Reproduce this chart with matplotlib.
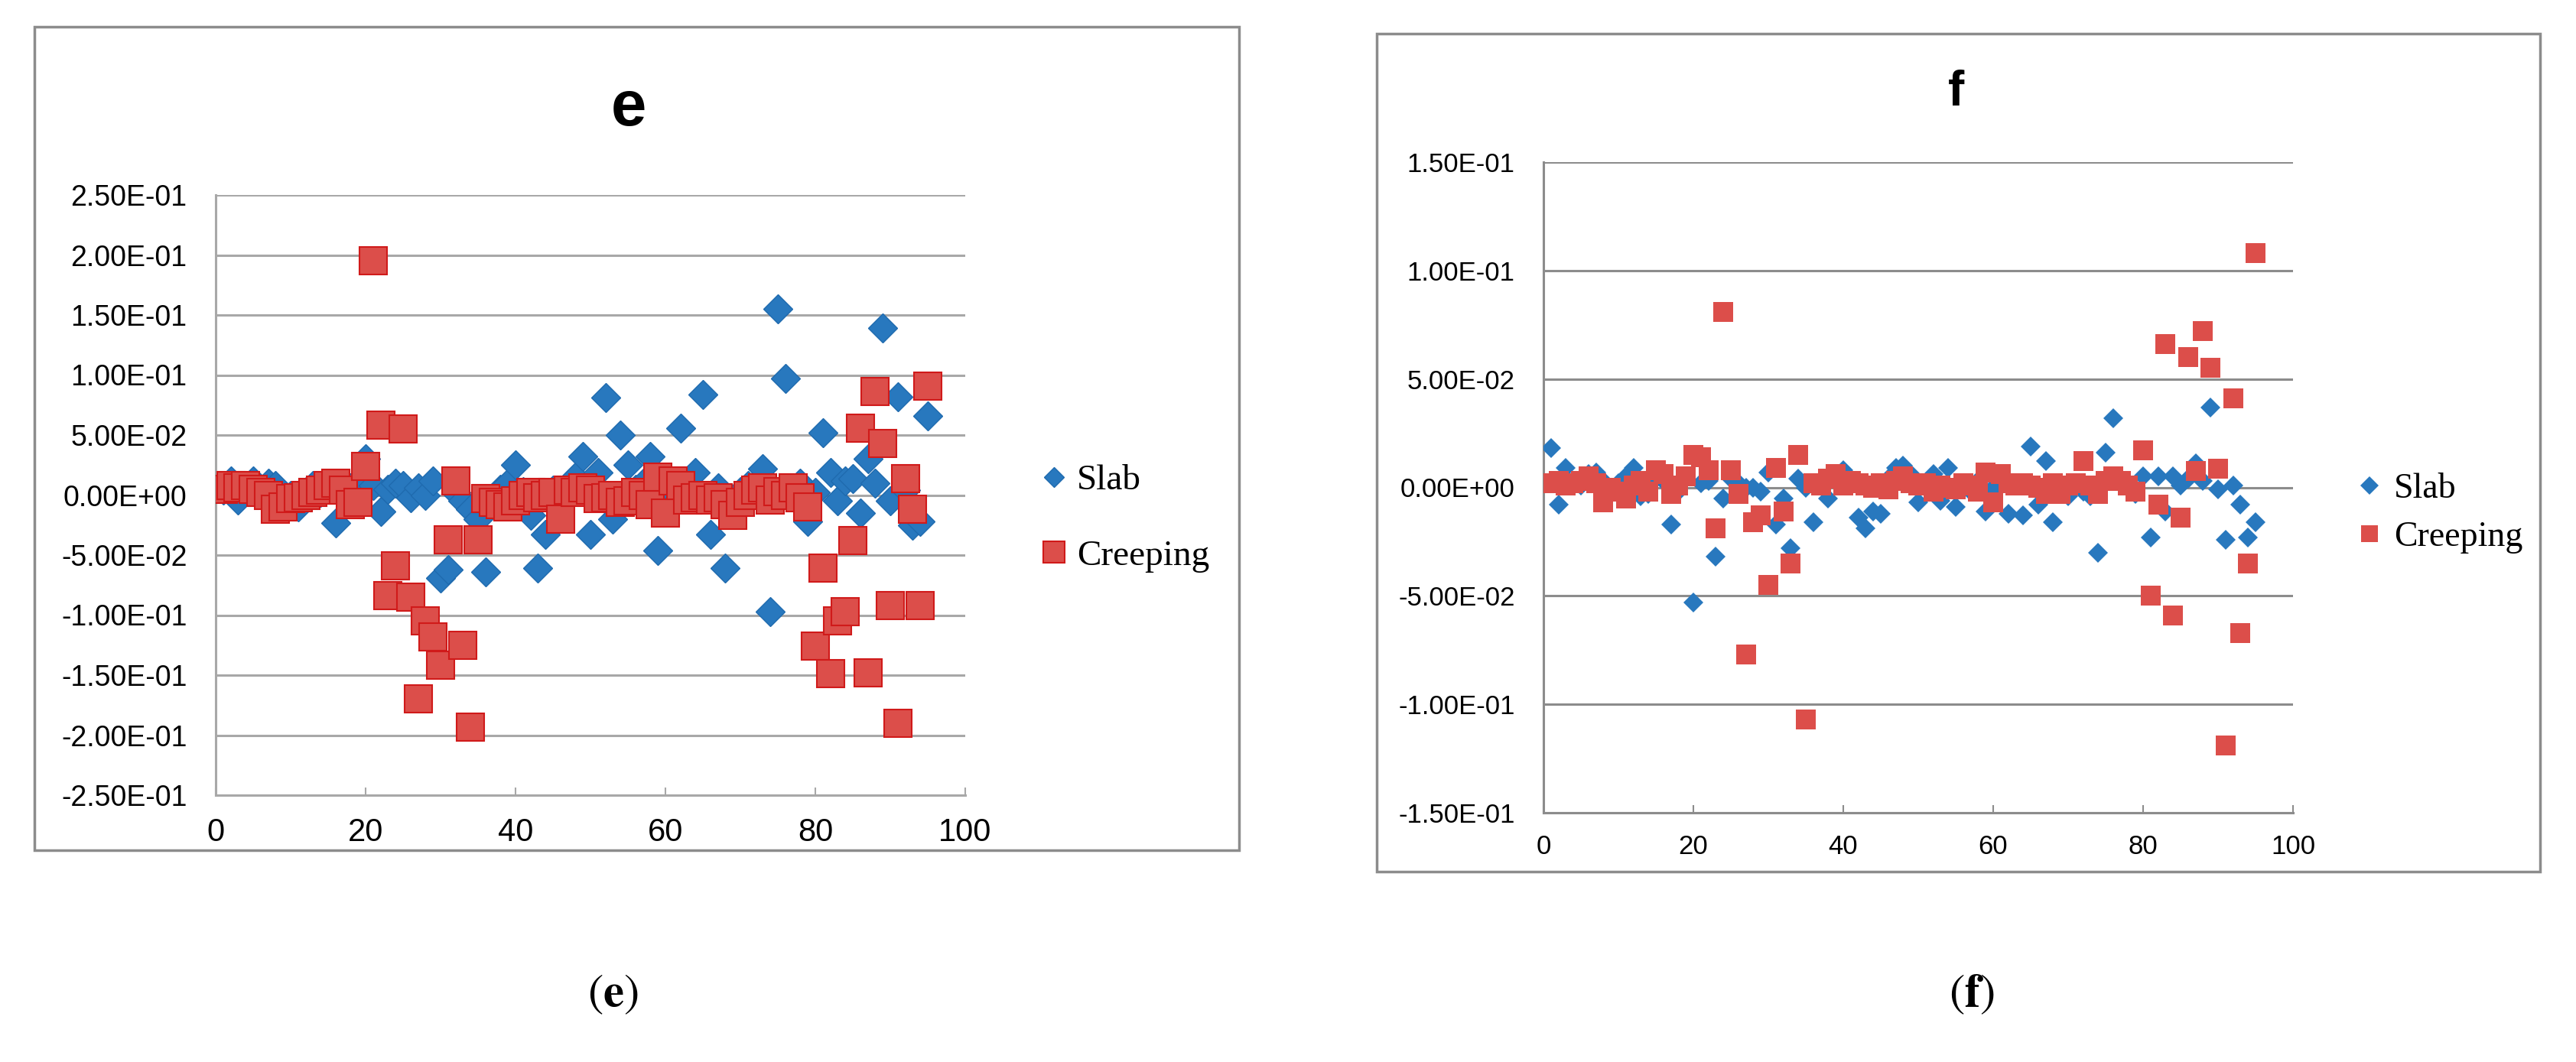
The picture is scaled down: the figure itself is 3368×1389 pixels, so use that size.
import matplotlib
matplotlib.use("Agg")
import matplotlib.pyplot as plt
from matplotlib.lines import Line2D
from matplotlib.patches import Rectangle

plt.rcParams["mathtext.fontset"] = "stix"

# ---- data ----
x_e = list(range(1, 96))
slab_e = [
    0.004, 0.012, -0.004, 0.006, 0.012, 0.002, 0.010, 0.008, -0.003, 0.000,
    -0.010, 0.003, 0.008, 0.002, 0.005, -0.023, 0.002, 0.006, 0.010, 0.030,
    0.008, -0.014, 0.005, 0.010, 0.008, -0.002, 0.006, 0.000, 0.012, -0.069,
    -0.062, 0.002, -0.005, -0.012, -0.020, -0.064, -0.005, 0.005, 0.010, 0.025,
    0.003, -0.017, -0.061, -0.033, 0.004, -0.005, 0.008, 0.015, 0.032, -0.033,
    0.019, 0.081, -0.020, 0.050, 0.025, 0.005, 0.010, 0.032, -0.046, 0.005,
    -0.008, 0.056, 0.006, 0.019, 0.084, -0.033, 0.006, -0.061, -0.010, 0.003,
    0.008, 0.010, 0.022, -0.097, 0.155, 0.097, 0.005, 0.010, -0.022, 0.002,
    0.052, 0.019, -0.005, 0.012, 0.014, -0.015, 0.030, 0.010, 0.139, -0.005,
    0.082, 0.004, -0.025, -0.022, 0.066,
]
creep_e = [
    0.005, 0.008, 0.006, 0.008, 0.005, 0.002, 0.000, -0.012, -0.010, -0.003,
    -0.002, 0.000, 0.002, 0.004, 0.008, 0.010, 0.004, -0.008, -0.006, 0.024,
    0.195, 0.058, -0.084, -0.059, 0.055, -0.085, -0.170, -0.105, -0.118, -0.142,
    -0.037, 0.012, -0.125, -0.193, -0.037, -0.003, -0.006, -0.008, -0.010, -0.005,
    0.000, 0.002, -0.002, 0.000, 0.002, -0.020, 0.004, 0.002, 0.006, 0.004,
    -0.003, -0.002, 0.000, -0.006, -0.005, 0.002, 0.000, -0.008, 0.015, -0.015,
    0.012, 0.008, -0.004, -0.002, 0.000, -0.004, -0.002, -0.008, -0.017, -0.006,
    0.000, 0.004, 0.006, -0.004, 0.003, 0.000, 0.006, -0.002, -0.010, -0.126,
    -0.061, -0.149, -0.105, -0.097, -0.038, 0.056, -0.148, 0.086, 0.043, -0.092,
    -0.190, 0.014, -0.012, -0.092, 0.091,
]

x_f = list(range(1, 96))
slab_f = [
    0.018, -0.008, 0.009, 0.002, 0.001, 0.006, 0.007, 0.003, -0.002, 0.002,
    0.005, 0.009, -0.004, -0.003, 0.004, 0.003, -0.017, -0.002, 0.004, -0.053,
    0.002, 0.003, -0.032, -0.005, 0.004, 0.002, 0.000, 0.000, -0.002, 0.007,
    -0.017, -0.005, -0.028, 0.004, 0.000, -0.016, 0.002, -0.005, 0.003, 0.008,
    0.002, -0.014, -0.019, -0.011, -0.012, 0.004, 0.009, 0.010, 0.006, -0.007,
    0.002, 0.006, -0.006, 0.009, -0.009, 0.001, -0.002, 0.003, -0.011, 0.000,
    0.004, -0.012, 0.002, -0.013, 0.019, -0.008, 0.012, -0.016, 0.001, -0.004,
    0.002, -0.002, -0.004, -0.030, 0.016, 0.032, 0.004, 0.002, -0.003, 0.005,
    -0.023, 0.005, -0.011, 0.005, 0.001, 0.004, 0.011, 0.003, 0.037, -0.001,
    -0.024, 0.001, -0.008, -0.023, -0.016,
]
creep_f = [
    0.002, 0.003, 0.001, 0.002, 0.003, 0.005, 0.002, -0.007, 0.000, -0.002,
    -0.005, 0.001, 0.003, -0.002, 0.008, 0.006, -0.003, 0.001, 0.005, 0.015,
    0.014, 0.008, -0.019, 0.081, 0.008, -0.003, -0.077, -0.016, -0.013, -0.045,
    0.009, -0.011, -0.035, 0.015, -0.107, 0.002, 0.001, 0.004, 0.006, 0.001,
    0.003, 0.002, 0.001, 0.000, 0.002, -0.001, 0.003, 0.005, 0.002, 0.001,
    0.002, -0.002, 0.001, 0.000, -0.001, 0.002, 0.001, -0.002, 0.007, -0.007,
    0.006, 0.002, 0.001, 0.002, 0.001, 0.000, -0.003, 0.002, -0.003, 0.001,
    0.002, 0.012, 0.001, -0.003, 0.003, 0.005, 0.003, 0.001, -0.002, 0.017,
    -0.050, -0.008, 0.066, -0.059, -0.014, 0.060, 0.0075, 0.072, 0.055, 0.0085,
    -0.119, 0.041, -0.067, -0.035, 0.108,
]

yticks_e = [-0.25, -0.20, -0.15, -0.10, -0.05, 0.0, 0.05, 0.10, 0.15, 0.20, 0.25]
yticks_f = [-0.15, -0.10, -0.05, 0.0, 0.05, 0.10, 0.15]
xticks = [0, 20, 40, 60, 80, 100]
labels = ["Slab", "Creeping"]

BLUE = "#2878BE"
BLUE_EDGE = "#1F6AAE"
RED = "#DC4E4A"
RED_EDGE = "#D01A1A"

W, H = 3368, 1389
fig = plt.figure(figsize=(W / 100, H / 100), dpi=100)


def px_box(x0, y0, x1, y1):
    # pixel box (top-left origin) -> figure fraction [l, b, w, h]
    return [x0 / W, 1 - y1 / H, (x1 - x0) / W, (y1 - y0) / H]


def style_axis(ax, yticks, grid_col, ylab_size, xlab_size, xpad, ypad):
    ax.set_xlim(0, 100)
    ax.set_ylim(yticks[0], yticks[-1])
    ax.set_yticks(yticks)
    ax.set_yticklabels(["{:.2E}".format(v) for v in yticks])
    ax.set_xticks(xticks)
    ax.set_xticklabels([str(v) for v in xticks])
    for sp in ("top", "right"):
        ax.spines[sp].set_visible(False)
    for sp in ("left", "bottom"):
        ax.spines[sp].set_color(grid_col)
        ax.spines[sp].set_linewidth(2.2)
    ax.yaxis.grid(True, color=grid_col, linewidth=2.2)
    ax.set_axisbelow(True)
    ax.tick_params(axis="y", length=0, pad=ypad, labelsize=ylab_size)
    ax.tick_params(axis="x", direction="in", length=7, width=1.5, color=grid_col,
                   pad=xpad, labelsize=xlab_size)
    for t in ax.get_xticklabels() + ax.get_yticklabels():
        t.set_fontfamily("Liberation Sans")


# ---- panel e ----
fig.add_artist(Rectangle((45 / W, 1 - 1112 / H), 1575 / W, 1077 / H,
                         transform=fig.transFigure, fill=False,
                         edgecolor="#8C8C8C", linewidth=2.5))
ax1 = fig.add_axes(px_box(282, 255, 1262, 1040))
ax1.plot(x_e, slab_e, "D", ms=19, color=BLUE, mec=BLUE_EDGE, mew=1, zorder=3)
ax1.plot(x_e, creep_e, "s", ms=26, color=RED, mec=RED_EDGE, mew=1.5, zorder=4)
style_axis(ax1, yticks_e, "#A8A8A8", 27, 30, 21, 27)
fig.text(822 / W, 1 - 142 / H, "e", ha="center", va="center", fontsize=60,
         fontweight="bold", family="Liberation Sans")
h_e = [Line2D([], [], ls="none", marker="D", ms=13.5, color=BLUE, mec=BLUE_EDGE),
       Line2D([], [], ls="none", marker="s", ms=20, color=RED, mec=RED_EDGE, mew=1.5)]
ax1.legend(h_e, labels, loc="center left", bbox_to_anchor=(1354 / W, 1 - 678 / H),
           bbox_transform=fig.transFigure, frameon=False, borderpad=0, borderaxespad=0,
           handlelength=1.0, handletextpad=0.15, labelspacing=1.18,
           prop={"family": "Liberation Serif", "size": 34})

# ---- panel f ----
fig.add_artist(Rectangle((1800 / W, 1 - 1140 / H), 1521 / W, 1096 / H,
                         transform=fig.transFigure, fill=False,
                         edgecolor="#8C8C8C", linewidth=2.5))
ax2 = fig.add_axes(px_box(2018, 212, 2998, 1063))
ax2.plot(x_f, slab_f, "D", ms=13, color=BLUE, mec=BLUE, mew=0, zorder=3)
ax2.plot(x_f, creep_f, "s", ms=19, color=RED, mec=RED, mew=0, zorder=4)
style_axis(ax2, yticks_f, "#8C8C8C", 25, 25, 20, 27)
fig.text(2558 / W, 1 - 121 / H, "f", ha="center", va="center", fontsize=46,
         fontweight="bold", family="Liberation Sans")
h_f = [Line2D([], [], ls="none", marker="D", ms=12.5, color=BLUE, mew=0),
       Line2D([], [], ls="none", marker="s", ms=16, color=RED, mew=0)]
ax2.legend(h_f, labels, loc="center left", bbox_to_anchor=(3075 / W, 1 - 671 / H),
           bbox_transform=fig.transFigure, frameon=False, borderpad=0, borderaxespad=0,
           handlelength=1.0, handletextpad=0.2, labelspacing=0.45,
           prop={"family": "Liberation Serif", "size": 33})

# ---- captions ----
fig.text(801 / W, 1 - 1300 / H, r"$(\mathbf{e})$", ha="center", va="center", fontsize=44)
fig.text(2578 / W, 1 - 1300 / H, r"$(\mathbf{f})$", ha="center", va="center", fontsize=44)

fig.savefig("out.png", dpi=100)
